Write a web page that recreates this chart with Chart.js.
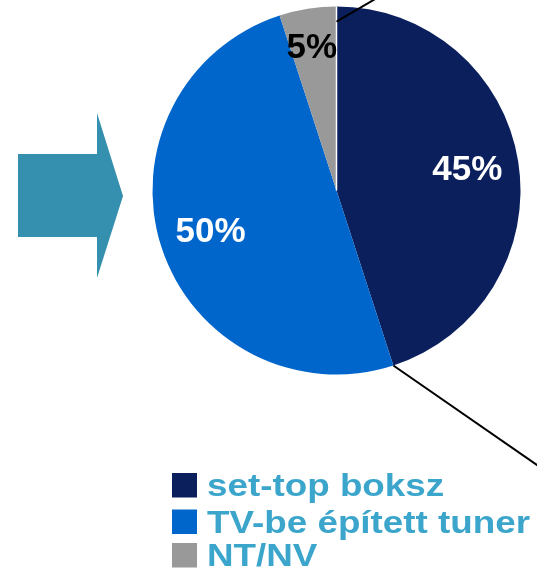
<!DOCTYPE html>
<html>
<head>
<meta charset="utf-8">
<script src="https://cdn.jsdelivr.net/npm/chart.js@4"></script>
<style>
  html, body { margin: 0; padding: 0; background: #ffffff; }
  #wrap { width: 537px; height: 568px; position: relative; }
</style>
</head>
<body>
<div id="wrap"><canvas id="c" width="537" height="568"></canvas></div>
<script>
const categories = ["set-top boksz", "TV-be épített tuner", "NT/NV"];
const shares = [45, 50, 5];
const valueLabels = ["45%", "50%", "5%"];
const sliceColors = ["#0a1f5c", "#0066cc", "#999999"];
const labelColors = ["#ffffff", "#ffffff", "#000000"];

const FONT = "'Liberation Sans', Arial, Helvetica, sans-serif";

const decoPlugin = {
  id: 'deco',
  beforeDatasetsDraw(chart) {
    const ctx = chart.ctx;
    ctx.save();
    // big arrow on the left
    ctx.fillStyle = '#358fae';
    ctx.beginPath();
    ctx.moveTo(18, 154);
    ctx.lineTo(97, 154);
    ctx.lineTo(97, 113);
    ctx.lineTo(123, 196);
    ctx.lineTo(97, 278);
    ctx.lineTo(97, 237);
    ctx.lineTo(18, 237);
    ctx.closePath();
    ctx.fill();
    ctx.restore();
  },
  afterDatasetsDraw(chart) {
    const ctx = chart.ctx;
    const meta = chart.getDatasetMeta(0);
    const fracs = [0.72, 0.72, 0.79];
    ctx.save();
    // thin white separator between NT/NV and set-top boksz
    const a0 = meta.data[0].getProps(['x', 'y', 'outerRadius', 'startAngle', 'endAngle'], true);
    ctx.strokeStyle = '#ffffff';
    ctx.lineWidth = 1.5;
    ctx.beginPath();
    ctx.moveTo(a0.x, a0.y);
    ctx.lineTo(a0.x + Math.cos(a0.startAngle) * a0.outerRadius, a0.y + Math.sin(a0.startAngle) * a0.outerRadius);
    ctx.stroke();

    ctx.font = "bold 35px " + FONT;
    ctx.textAlign = 'center';
    ctx.textBaseline = 'middle';
    meta.data.forEach((arc, i) => {
      const p = arc.getProps(['x', 'y', 'startAngle', 'endAngle', 'outerRadius'], true);
      const mid = (p.startAngle + p.endAngle) / 2;
      const r = p.outerRadius * fracs[i];
      ctx.fillStyle = labelColors[i];
      ctx.fillText(valueLabels[i], p.x + Math.cos(mid) * r - (i === 2 ? 2 : 0), p.y + Math.sin(mid) * r + 1);
    });
    // leader lines
    ctx.strokeStyle = '#000000';
    ctx.lineWidth = 2;
    ctx.beginPath();
    ctx.moveTo(a0.x, a0.y - a0.outerRadius * 0.918);
    ctx.lineTo(a0.x + 60, a0.y - a0.outerRadius * 0.918 - 35);
    ctx.stroke();
    const ex = a0.x + Math.cos(a0.endAngle) * a0.outerRadius;
    const ey = a0.y + Math.sin(a0.endAngle) * a0.outerRadius;
    ctx.beginPath();
    ctx.moveTo(ex, ey);
    ctx.lineTo(ex + 150, ey + 104);
    ctx.stroke();

    // legend
    const baselines = [496, 532.5, 566];
    ctx.textAlign = 'left';
    ctx.textBaseline = 'alphabetic';
    ctx.font = "bold 32px " + FONT;
    categories.forEach((name, i) => {
      const b = baselines[i];
      ctx.fillStyle = sliceColors[i];
      ctx.fillRect(172, b - 23, 25, 24.5);
      ctx.save();
      ctx.translate(207, b);
      ctx.scale(1.15, 1);
      ctx.fillStyle = '#3ba5cb';
      ctx.fillText(name, 0, 0);
      ctx.restore();
    });
    ctx.restore();
  }
};

new Chart(document.getElementById('c'), {
  type: 'pie',
  data: {
    labels: categories,
    datasets: [{
      data: shares,
      backgroundColor: sliceColors,
      borderWidth: 0,
      radius: 184
    }]
  },
  options: {
    responsive: false,
    animation: false,
    layout: { padding: { left: 153, right: 17, top: 7, bottom: 194 } },
    plugins: {
      legend: { display: false },
      tooltip: { enabled: false }
    }
  },
  plugins: [decoPlugin]
});
</script>
</body>
</html>
